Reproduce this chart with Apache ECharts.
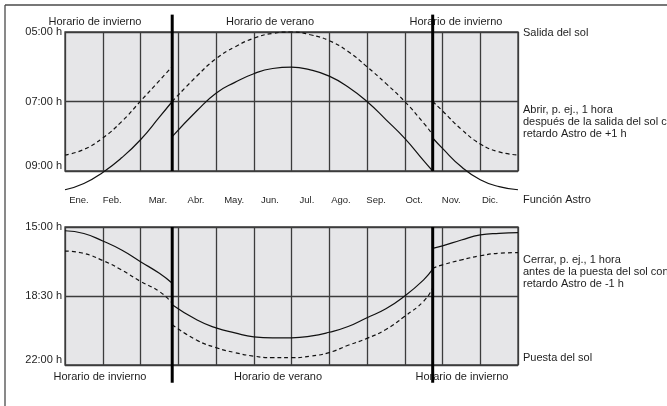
<!DOCTYPE html>
<html><head><meta charset="utf-8">
<script src="https://cdn.jsdelivr.net/npm/echarts@6/dist/echarts.min.js"></script>
<style>html,body{margin:0;padding:0;background:#fff}#c{width:667px;height:406px}</style>
</head><body><div id="c"></div>
<script>
// ---------- data ----------
const months = ['Ene.','Feb.','Mar.','Abr.','May.','Jun.','Jul.','Ago.','Sep.','Oct.','Nov.','Dic.'];
const monthLabelAt = [0.37,1.25,2.46,3.47,4.48,5.43,6.41,7.31,8.24,9.25,10.23,11.26];
const dstMonths = [2.84, 9.74];
const sunriseTicks = [5,7,9];
const sunriseTickLabels = ['05:00 h','07:00 h','09:00 h'];
const sunsetTicks = [15,18.5,22];
const sunsetTickLabels = ['15:00 h','18:30 h','22:00 h'];

// x positions (months since 1 Jan) of the read points
const winterStartX = [0,0.5,1,1.5,2,2.5,2.84];
const summerX = [2.84,3.5,4,4.5,5,5.5,6,6.5,7,7.5,8,8.5,9,9.5,9.74];
const winterEndX = [9.74,10,10.5,11,11.5,12];

// top chart, sunrise (dashed), hours
const sunriseWinterStart = [8.54,8.38,8.05,7.58,6.99,6.40,5.99];
const sunriseSummer = [7.0,6.26,5.77,5.43,5.18,5.04,5.0,5.08,5.25,5.56,6.0,6.48,7.0,7.62,7.95];
const sunriseWinterEnd = [7.0,7.27,7.80,8.22,8.45,8.54];
// top chart, open with Astro +1 h (solid)
const openWinterStart = [9.54,9.36,9.04,8.62,8.10,7.45,7.0];
const openSummer = [8.01,7.26,6.76,6.45,6.20,6.05,6.01,6.09,6.27,6.58,7.0,7.52,8.06,8.70,9.0];
const openWinterEnd = [8.05,8.35,8.88,9.25,9.45,9.54];
// bottom chart, close with Astro -1 h (solid)
const closeWinterStart = [15.19,15.33,15.71,16.17,16.76,17.35,17.85];
const closeSummer = [18.94,19.72,20.12,20.37,20.57,20.62,20.62,20.54,20.34,20.05,19.6,19.15,18.5,17.68,17.14];
const closeWinterEnd = [16.08,15.96,15.66,15.4,15.32,15.29];
// bottom chart, sunset (dashed)
const sunsetWinterStart = [16.22,16.34,16.70,17.18,17.76,18.27,18.86];
const sunsetSummer = [19.96,20.75,21.12,21.37,21.55,21.63,21.63,21.55,21.37,21.0,20.65,20.2,19.53,18.77,18.1];
const sunsetWinterEnd = [17.09,16.92,16.67,16.46,16.33,16.30];

// ---------- chart ----------
const FONT = '"Liberation Sans", Arial, Helvetica, sans-serif';
const TXT = '#1e1e1e';
const GRID_LINE = {color:'#3c3c3c', width:1.3};
function pick(vals, labels){
  return function(v){ const i = vals.findIndex(t => Math.abs(t - v) < 1e-6); return i < 0 ? '' : labels[i]; };
}
function pts(xs, ys){ return xs.map((x,i) => [x, ys[i]]); }
function curve(xs, ys, grid, dashed){
  return {type:'line', xAxisIndex: grid === 0 ? 0 : 2, yAxisIndex: grid, data: pts(xs, ys),
    smooth:0.5, symbol:'none', clip:false, silent:true, z:3,
    lineStyle:{color:'#111', width:1.2, type: dashed ? [4,3] : 'solid'}};
}
function dstLine(m, grid, y0, y1){
  return {type:'line', xAxisIndex: grid === 0 ? 0 : 2, yAxisIndex: grid, data:[[m,y0],[m,y1]],
    symbol:'none', clip:false, silent:true, z:4, lineStyle:{color:'#000', width:3}};
}
function yAxisDef(grid, min, max, ticks, labels){
  return {gridIndex:grid, type:'value', inverse:true, min:min, max:max,
    axisLine:{show:false}, axisTick:{show:false, customValues:ticks},
    splitLine:{show:true, lineStyle:GRID_LINE},
    axisLabel:{customValues:ticks, formatter:pick(ticks, labels), margin:3, fontSize:11,
      color:TXT, fontFamily:FONT, verticalAlignMaxLabel:'bottom'}};
}
function txt(s, x, y, align, lh){
  return {type:'text', z:1, style:{text:s, x:x, y:y, fill:TXT, font:'11px ' + FONT,
    align:align || 'left', verticalAlign:'middle', lineHeight: lh || 12}};
}

const series = [
  curve(winterStartX, sunriseWinterStart, 0, true),
  curve(summerX, sunriseSummer, 0, true),
  curve(winterEndX, sunriseWinterEnd, 0, true),
  curve(winterStartX, openWinterStart, 0, false),
  curve(summerX, openSummer, 0, false),
  curve(winterEndX, openWinterEnd, 0, false),
  curve(winterStartX, closeWinterStart, 1, false),
  curve(summerX, closeSummer, 1, false),
  curve(winterEndX, closeWinterEnd, 1, false),
  curve(winterStartX, sunsetWinterStart, 1, true),
  curve(summerX, sunsetSummer, 1, true),
  curve(winterEndX, sunsetWinterEnd, 1, true),
  dstLine(dstMonths[0], 0, 4.5, 9), dstLine(dstMonths[1], 0, 4.5, 9),
  dstLine(dstMonths[0], 1, 15, 22.9), dstLine(dstMonths[1], 1, 15, 22.9)
];

const option = {
  animation:false,
  backgroundColor:'#ffffff',
  grid:[
    {left:65, right:149, top:32, height:139, show:true, backgroundColor:'#e6e6e8', borderColor:'#3c3c3c', borderWidth:1.3},
    {left:65, right:149, top:227, height:138, show:true, backgroundColor:'#e6e6e8', borderColor:'#3c3c3c', borderWidth:1.3}
  ],
  xAxis:[
    {gridIndex:0, type:'value', min:0, max:12, interval:1, axisLine:{show:false}, axisTick:{show:false},
      axisLabel:{show:false}, splitLine:{show:true, lineStyle:GRID_LINE}},
    {gridIndex:0, type:'value', min:0, max:12, position:'bottom', axisLine:{show:false},
      axisTick:{show:false, customValues:monthLabelAt}, splitLine:{show:false},
      axisLabel:{customValues:monthLabelAt, formatter:pick(monthLabelAt, months), margin:24,
        fontSize:9.5, color:TXT, fontFamily:FONT}},
    {gridIndex:1, type:'value', min:0, max:12, interval:1, axisLine:{show:false}, axisTick:{show:false},
      axisLabel:{show:false}, splitLine:{show:true, lineStyle:GRID_LINE}}
  ],
  yAxis:[
    yAxisDef(0, 5, 9, sunriseTicks, sunriseTickLabels),
    yAxisDef(1, 15, 22, sunsetTicks, sunsetTickLabels)
  ],
  graphic:[
    {type:'line', z:0, shape:{x1:5, y1:5, x2:667, y2:5}, style:{stroke:'#4a4a4a', lineWidth:1.3}},
    {type:'line', z:0, shape:{x1:5, y1:5, x2:5, y2:406}, style:{stroke:'#4a4a4a', lineWidth:1.3}},
    txt('Horario de invierno', 95, 22, 'center'),
    txt('Horario de verano', 270, 22, 'center'),
    txt('Horario de invierno', 456, 22, 'center'),
    txt('Horario de invierno', 100, 377, 'center'),
    txt('Horario de verano', 278, 377, 'center'),
    txt('Horario de invierno', 462, 377, 'center'),
    txt('Salida del sol', 523, 33),
    txt('Abrir, p. ej., 1 hora\ndespués de la salida del sol con\nretardo Astro de +1 h', 523, 122),
    txt('Función Astro', 523, 200),
    txt('Cerrar, p. ej., 1 hora\nantes de la puesta del sol con\nretardo Astro de -1 h', 523, 272),
    txt('Puesta del sol', 523, 358)
  ],
  series: series
};
const chart = echarts.init(document.getElementById('c'), null, {renderer:'canvas'});
chart.setOption(option);
</script></body></html>
